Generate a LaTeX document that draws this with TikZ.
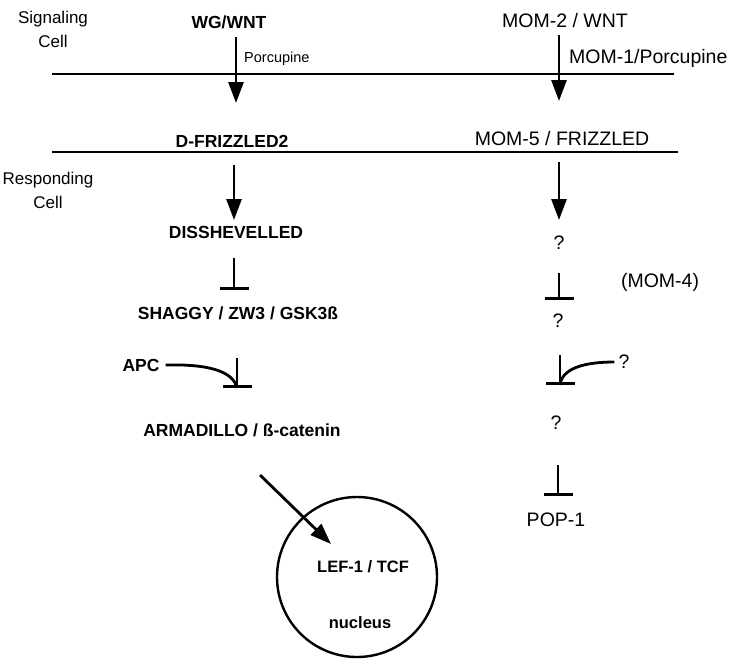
\documentclass[tikz,border=0pt]{standalone}
\usepackage{fontspec}
\setmainfont{Liberation Sans}
\usetikzlibrary{arrows.meta}
\begin{document}
\begin{tikzpicture}[x=1pt,y=-1pt,
  lbl/.style={inner sep=0pt,font=\fontsize{17}{24}\selectfont,align=center},
  bold/.style={inner sep=0pt,font=\fontsize{17.5}{20}\selectfont\bfseries},
  reg/.style={inner sep=0pt,font=\fontsize{19.5}{22}\selectfont},
  small/.style={inner sep=0pt,font=\fontsize{14.5}{17}\selectfont},
  membrane/.style={line width=1.8pt},
  act/.style={line width=2.8pt,-{Triangle[length=21pt,width=15pt]}},
  inh/.style={line width=2.8pt,-{Bar[width=29pt,line width=3pt]}},
  link/.style={line width=2.8pt}]
\useasboundingbox (0,0) rectangle (754,659);

% side labels
\node[lbl] (sig) at (53,29) {Signaling\\Cell};
\node[lbl] (resp) at (48,190) {Responding\\Cell};

% membranes
\coordinate (m1a) at (52,74);  \coordinate (m1b) at (674,74);
\coordinate (m2a) at (52,152); \coordinate (m2b) at (678,152);
\draw[membrane] (m1a) -- (m1b);
\draw[membrane] (m2a) -- (m2b);

% left column
\node[bold] (wg) at (229,22) {WG/WNT};
\node[small,anchor=west] (porc) at (244,59) {Porcupine};
\node[bold] (dfz) at (232,141) {D-FRIZZLED2};
\node[bold] (dis) at (236,232) {DISSHEVELLED};
\node[bold] (sgg) at (238,313) {SHAGGY / ZW3 / GSK3ß};
\node[bold] (apc) at (141,365) {APC};
\node[bold] (arm) at (242,430) {ARMADILLO / ß-catenin};

\coordinate (l1s) at (236,37);  \coordinate (l1e) at (236,103);
\coordinate (l2s) at (234,165); \coordinate (l2e) at (234,220);
\coordinate (l3s) at (234,258); \coordinate (l3e) at (234,290);
\coordinate (l4s) at (237,358); \coordinate (l4e) at (237,388);
\draw[act] (l1s) -- (l1e);
\draw[act] (l2s) -- (l2e);
\draw[inh] (l3s) -- (l3e);
\draw[inh] (l4s) -- (l4e);
\draw[link] (apc.east) ++(6,0) coordinate (apcs)
  .. controls (205,364) and (233,370) .. (l4e);

% nucleus
\node[circle,draw,line width=2.4pt,minimum size=160pt,inner sep=0pt] (nuc) at (357,577) {};
\node[inner sep=0pt,font=\fontsize{16.5}{20}\selectfont\bfseries] (lef) at (363,567) {LEF-1 / TCF};
\node[inner sep=0pt,font=\fontsize{16.5}{20}\selectfont\bfseries] (nucl) at (360,623) {nucleus};
\coordinate (n1s) at (260,475); \coordinate (n1e) at (331,544);
\draw[act] (n1s) -- (n1e);

% right column
\node[reg] (mom2) at (565,21) {MOM-2 / WNT};
\node[reg,anchor=west] (mom1) at (569,58) {MOM-1/Porcupine};
\node[reg] (mom5) at (562,139) {MOM-5 / FRIZZLED};
\node[reg] (q1) at (559,243) {?};
\node[reg] (mom4) at (660,282) {(MOM-4)};
\node[reg] (q2) at (558,321) {?};
\node[reg] (q3) at (624,362) {?};
\node[reg] (q4) at (556,423) {?};
\node[reg] (pop) at (556,520) {POP-1};

\coordinate (r1s) at (559,35);  \coordinate (r1e) at (559,101);
\coordinate (r2s) at (559,162); \coordinate (r2e) at (559,220);
\coordinate (r3s) at (559,273); \coordinate (r3e) at (559,300);
\coordinate (r4s) at (560,355); \coordinate (r4e) at (560,385);
\coordinate (r5s) at (558,465); \coordinate (r5e) at (558,496);
\draw[act] (r1s) -- (r1e);
\draw[act] (r2s) -- (r2e);
\draw[inh] (r3s) -- (r3e);
\draw[inh] (r4s) -- (r4e);
\draw[inh] (r5s) -- (r5e);
\draw[link] (q3.west) ++(-4,0) coordinate (q3s)
  .. controls (585,362) and (562,368) .. (r4e);
\end{tikzpicture}
\end{document}
